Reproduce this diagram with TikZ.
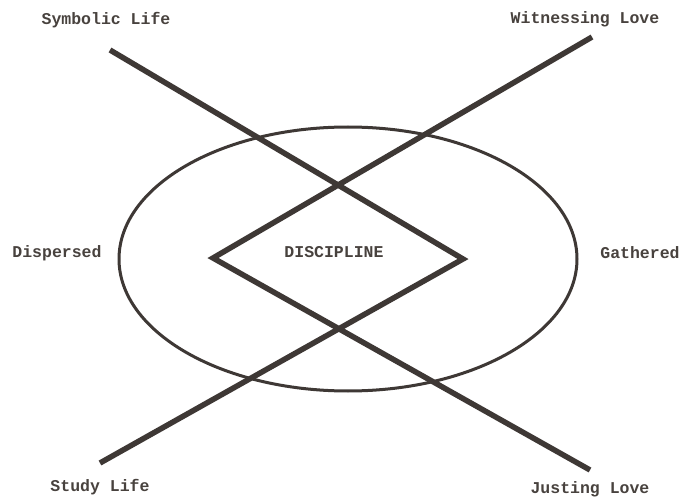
\documentclass[tikz,border=0pt]{standalone}
\usepackage{fontspec}
\setmonofont{Liberation Mono}
\usetikzlibrary{shapes.geometric}
\definecolor{inkc}{RGB}{62,56,53}
\definecolor{textc}{RGB}{72,66,62}
\begin{document}
\begin{tikzpicture}[x=1pt,y=-1pt,
  ink/.style={draw=inkc},
  bar/.style={ink,line width=5.5pt,line join=miter,line cap=butt},
  ring/.style={ink,line width=3pt},
  lbl/.style={text=textc,font=\fontsize{16.5}{18}\selectfont\ttfamily\bfseries,inner sep=0pt}]
\useasboundingbox (0,0) rectangle (686,500);
\fill[white] (0,0) rectangle (686,500);
% ellipse
\node[ring,ellipse,minimum width=458pt,minimum height=264pt,inner sep=0pt] (ring) at (348,259) {};
% line ends and diamond vertices
\coordinate (sl) at (110,50);
\coordinate (wl) at (592,37);
\coordinate (st) at (100,463);
\coordinate (jl) at (590,470);
\coordinate (rv) at (463,259);
\coordinate (lv) at (213,258);
\draw[bar] (sl) -- (rv) -- (st);
\draw[bar] (wl) -- (lv) -- (jl);
% labels
\node[lbl] (symb) at (106,20) {Symbolic Life};
\node[lbl] (witn) at (585,19) {Witnessing Love};
\node[lbl] (stud) at (100,487) {Study Life};
\node[lbl] (just) at (590,489) {Justing Love};
\node[lbl] (disp) at (57,253) {Dispersed};
\node[lbl] (gath) at (640,253) {Gathered};
\node[lbl] (disc) at (334,252) {DISCIPLINE};
\end{tikzpicture}
\end{document}
